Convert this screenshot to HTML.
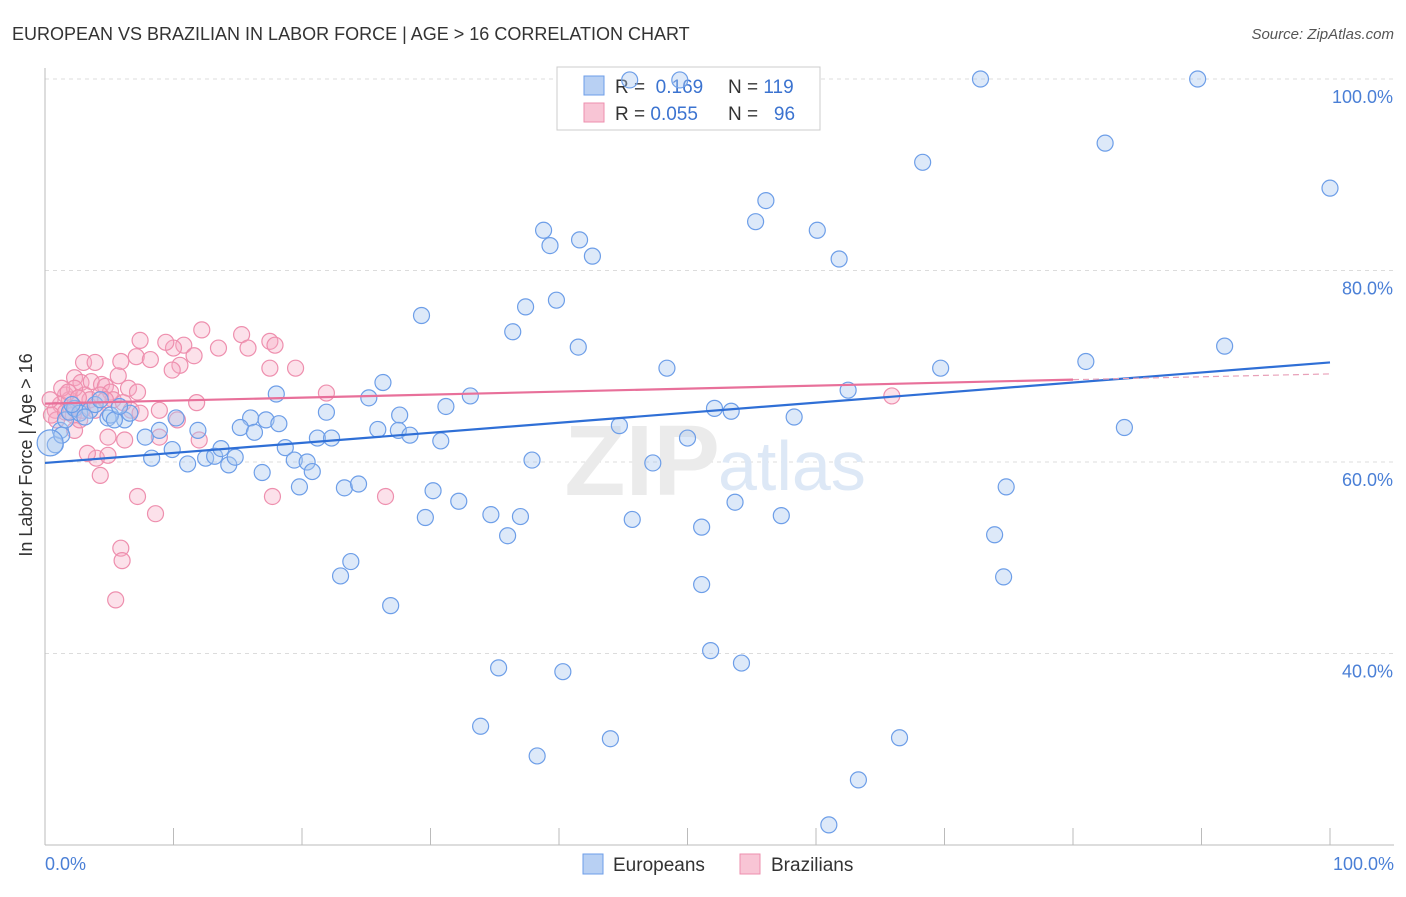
<!DOCTYPE html>
<html><head><meta charset="utf-8">
<style>
body{margin:0;background:#fff;font-family:"Liberation Sans",sans-serif;}
svg text{font-family:"Liberation Sans",sans-serif;}
</style></head>
<body>
<svg width="1406" height="892" viewBox="0 0 1406 892">
<text x="12" y="40" font-size="18" fill="#333">EUROPEAN VS BRAZILIAN IN LABOR FORCE | AGE &gt; 16 CORRELATION CHART</text>
<text x="1394" y="39" font-size="15" fill="#555" text-anchor="end" font-style="italic">Source: ZipAtlas.com</text>
<g id="grid"></g>
<text x="720" y="495" font-size="100" fill="#ebebeb" text-anchor="end" font-family="Liberation Serif" font-weight="bold">ZIP</text>
<text x="718" y="490" font-size="70" fill="#dde8f6">atlas</text>
<g>
<rect x="557" y="67" width="263" height="63" fill="#fff" stroke="#ccc"/>
<rect x="584" y="76" width="20" height="19" fill="#b8d0f3" stroke="#6d9ee8"/>
<rect x="584" y="103" width="20" height="19" fill="#f8c5d5" stroke="#ee8fae"/>
<text x="615" y="93" font-size="19" fill="#333">R = <tspan fill="#3b73d0">&#160;0.169</tspan><tspan x="728">N = </tspan><tspan fill="#3b73d0">119</tspan></text>
<text x="615" y="120" font-size="19" fill="#333">R = <tspan fill="#3b73d0">0.055</tspan><tspan x="728">N = </tspan><tspan fill="#3b73d0">&#160;&#160;96</tspan></text>
</g>
<g id="axes"></g>
<g id="pts"></g>
<g id="trend"></g>
<text x="32" y="455" font-size="18" fill="#333" text-anchor="middle" transform="rotate(-90 32 455)">In Labor Force | Age &gt; 16</text>
<text x="45" y="870" font-size="18" fill="#4a7fd6">0.0%</text>
<text x="1394" y="870" font-size="18" fill="#4a7fd6" text-anchor="end">100.0%</text>
<g>
<rect x="583" y="854" width="20" height="20" fill="#b8d0f3" stroke="#6d9ee8"/>
<text x="613" y="871" font-size="19" fill="#333">Europeans</text>
<rect x="740" y="854" width="20" height="20" fill="#f8c5d5" stroke="#ee8fae"/>
<text x="771" y="871" font-size="19" fill="#333">Brazilians</text>
</g>
</svg>
<script>
const blueX=[45.5,49.4,72.8,89.7,82.5,68.3,100,56.1,38.8,41.6,55.3,60.1,39.3,42.6,61.8,39.8,37.4,29.3,36.4,41.5,91.8,81.0,48.4,69.7,26.3,18.0,33.1,62.5,25.2,31.2,21.9,27.6,52.1,53.4,58.3,84.0,44.7,25.9,27.5,28.4,30.8,50.0,16.0,17.2,18.2,15.2,16.3,11.9,10.2,8.9,7.8,6.2,4.9,21.2,22.3,18.7,9.9,11.1,8.3,12.5,13.2,13.7,14.3,14.8,16.9,19.4,20.4,20.8,19.8,23.3,24.4,37.9,47.3,30.2,32.2,29.6,34.7,37.0,36.0,45.7,51.1,53.7,57.3,74.8,73.9,23.8,23.0,26.9,51.1,74.6,51.8,54.2,35.3,40.3,33.9,44.0,38.3,66.5,63.3,61.0,0.8,1.2,1.6,1.9,2.3,2.7,3.5,3.9,4.3,5.1,5.4,6.6,3.1,1.3,2.1,5.8,0.4];
const blueY=[99.9,99.9,100,100,93.3,91.3,88.6,87.3,84.2,83.2,85.1,84.2,82.6,81.5,81.2,76.9,76.2,75.3,73.6,72.0,72.1,70.5,69.8,69.8,68.3,67.1,66.9,67.5,66.7,65.8,65.2,64.9,65.6,65.3,64.7,63.6,63.8,63.4,63.3,62.8,62.2,62.5,64.6,64.4,64.0,63.6,63.1,63.3,64.6,63.3,62.6,64.4,64.6,62.5,62.5,61.5,61.3,59.8,60.4,60.4,60.6,61.4,59.7,60.5,58.9,60.2,60.0,59.0,57.4,57.3,57.7,60.2,59.9,57.0,55.9,54.2,54.5,54.3,52.3,54.0,53.2,55.8,54.4,57.4,52.4,49.6,48.1,45.0,47.2,48.0,40.3,39.0,38.5,38.1,32.4,31.1,29.3,31.2,26.8,22.1,61.8,63.3,64.4,65.2,65.6,65.1,65.4,66.0,66.5,64.9,64.4,65.1,64.7,62.8,66.0,65.8,62.0];
const pinkX=[17.5,17.9,12.2,15.3,10.8,11.6,7.4,7.1,8.2,5.9,3.0,3.9,10.0,13.5,15.8,9.4,10.5,9.9,17.5,19.5,5.7,6.5,7.2,2.3,2.8,3.6,4.4,4.7,5.1,21.9,11.8,8.9,5.3,6.1,6.7,7.4,65.9,10.3,12.0,8.9,4.9,6.2,4.0,3.3,4.9,4.3,7.2,8.6,17.7,26.5,5.9,6.0,5.5,2.3,2.7,1.6,1.9,1.2,0.8,0.4,3.1,3.5,2.3,1.3,1.8,2.6,3.9,4.3,0.9,0.5,2.9,2.2,4.7,1.6];
const pinkY=[72.6,72.2,73.8,73.3,72.2,71.1,72.7,71.0,70.7,70.5,70.4,70.4,71.9,71.9,71.9,72.5,70.1,69.6,69.8,69.8,69.0,67.7,67.3,68.8,68.3,68.4,68.1,67.9,67.3,67.2,66.2,65.4,66.5,66.2,65.4,65.1,66.9,64.4,62.3,62.6,62.6,62.3,60.4,60.9,60.7,58.6,56.4,54.6,56.4,56.4,51.0,49.7,45.6,63.3,64.4,67.0,66.5,66.0,65.4,66.5,67.0,66.5,67.7,67.7,67.3,66.7,65.4,67.0,64.4,64.9,65.4,64.9,66.5,65.2];
const blueTrend=[59.9,70.4];
const pinkTrend=[66.1,68.6,69.2];
const yTicks=[100,80,60,40];
const yTickLabels=["100.0%","80.0%","60.0%","40.0%"];
const xTicks=[0,10,20,30,40,50,60,70,80,90,100];

const NS="http://www.w3.org/2000/svg";
const sx=v=>45+v*12.85;
const sy=v=>79+(100-v)*9.575;
function mk(tag,attrs,parent){const e=document.createElementNS(NS,tag);for(const k in attrs)e.setAttribute(k,attrs[k]);parent.appendChild(e);return e;}
const grid=document.getElementById('grid'),axes=document.getElementById('axes'),pts=document.getElementById('pts'),trend=document.getElementById('trend');
yTicks.forEach((t,i)=>{
  const l=mk('line',{x1:45,x2:1394,y1:sy(t),y2:sy(t),stroke:'#dcdcdc','stroke-dasharray':'4,4'},grid);
  
  
  const tx=mk('text',{x:1393,y:sy(t)+24,'font-size':18,fill:'#4a7fd6','text-anchor':'end'},grid);
  tx.textContent=yTickLabels[i];
  
  
});
let a=mk('line',{x1:45,x2:45,y1:68,y2:845,stroke:'#bbb'},axes);


a=mk('line',{x1:45,x2:1394,y1:845,y2:845,stroke:'#bbb'},axes);


xTicks.forEach(t=>{
  const l=mk('line',{x1:sx(t),x2:sx(t),y1:828,y2:845,stroke:'#bbb'},axes);
  
  
});
pinkX.forEach((x,i)=>{
  const c=mk('circle',{cx:sx(x),cy:sy(pinkY[i]),r:8,fill:'rgba(245,170,195,0.35)',stroke:'#ee8fae','stroke-width':1.2},pts);
  
  
});
blueX.forEach((x,i)=>{
  const c=mk('circle',{cx:sx(x),cy:sy(blueY[i]),r:i==blueX.length-1?13:8,fill:'rgba(170,200,240,0.4)',stroke:'#6d9ee8','stroke-width':1.2},pts);
  
  
});
let t=mk('line',{x1:sx(0),y1:sy(blueTrend[0]),x2:sx(100),y2:sy(blueTrend[1]),stroke:'#2f6fd6','stroke-width':2.2},trend);


t=mk('line',{x1:sx(0),y1:sy(pinkTrend[0]),x2:sx(80),y2:sy(pinkTrend[1]),stroke:'#e8709a','stroke-width':2.2},trend);


t=mk('line',{x1:sx(80),y1:sy(pinkTrend[1]),x2:sx(100),y2:sy(pinkTrend[2]),stroke:'#e8a0b8','stroke-width':1.2,'stroke-dasharray':'6,4'},trend);


</script>
</body></html>
